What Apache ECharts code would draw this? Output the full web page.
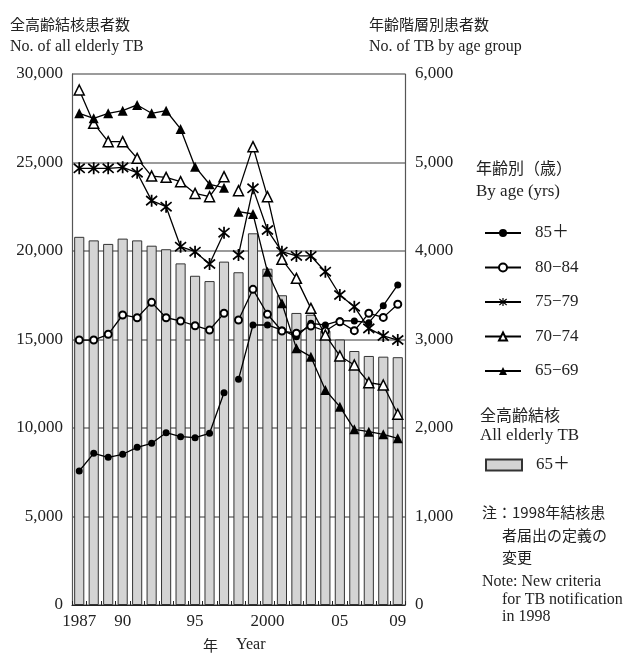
<!DOCTYPE html>
<html><head><meta charset="utf-8">
<script src="https://cdn.jsdelivr.net/npm/echarts@6/dist/echarts.min.js"></script>
<style>html,body{margin:0;padding:0;background:#fff}#c{width:643px;height:656px}</style>
</head><body><div id="c"></div>
<script>
const years = ['1987','1988','1989','1990','1991','1992','1993','1994','1995','1996','1997','1998','1999','2000','2001','2002','2003','2004','2005','2006','2007','2008','2009'];
const yearLabels = ['1987','','','90','','','','','95','','','','','2000','','','','','05','','','','09'];
const leftTicks = [0,5000,10000,15000,20000,25000,30000];
const rightTicks = [0,1000,2000,3000,4000,5000,6000];
const allElderly = [20800,20600,20400,20700,20600,20300,20100,19300,18600,18300,19400,18800,21000,19000,17500,16500,16400,15500,15000,14350,14070,14030,14000];
const age85 = [1514,1714,1669,1703,1782,1827,1947,1902,1891,1940,2399,2550,3164,3164,3107,3030,3183,3164,3213,3209,3190,3382,3616];
const age80 = [2994,2994,3059,3277,3246,3420,3246,3209,3156,3107,3296,3220,3567,3285,3096,3070,3153,3096,3201,3100,3296,3250,3398];
const age75 = [4934,4934,4934,4945,4885,4569,4501,4049,3992,3853,4207,3955,4708,4237,3992,3944,3944,3766,3503,3371,3126,3040,2994];
const age70 = [5819,5443,5235,5235,5047,4847,4832,4783,4651,4614,4840,4682,5179,4614,3906,3691,3352,3051,2814,2712,2512,2486,2155];
const age65 = [5556,5499,5556,5585,5650,5556,5585,5379,4953,4754,4716,4444,4418,3766,3409,2900,2806,2429,2241,1985,1958,1929,1884];
const breakIndex = 11; // 1998: new notification criteria, lines broken here

const FONT = "'Liberation Serif', 'Noto Sans CJK JP', serif";
const CJK = "'Noto Sans CJK JP', sans-serif";
const asterisk = 'path://M4.3,0 L5.7,0 L5.7,10 L4.3,10 Z M0.2,1.8 L1.0,0.6 L9.8,8.2 L9.0,9.4 Z M9.0,0.6 L9.8,1.8 L1.0,9.4 L0.2,8.2 Z';

const groups = [
  {name:'85＋', data:age85, symbol:'circle', size:7, item:{color:'#000'}},
  {name:'80−84', data:age80, symbol:'emptyCircle', size:7, item:{color:'#000', borderWidth:1.5}},
  {name:'75−79', data:age75, symbol:asterisk, size:12, item:{color:'#000'}},
  {name:'70−74', data:age70, symbol:'triangle', size:10, item:{color:'#fff', borderColor:'#000', borderWidth:1.5}},
  {name:'65−69', data:age65, symbol:'triangle', size:10, item:{color:'#000'}}
];

const series = [{
  name:'65＋', type:'bar', yAxisIndex:0, data:allElderly, barCategoryGap:'30%',
  itemStyle:{color:'#d4d4d4', borderColor:'#333', borderWidth:1}, z:1
}];
groups.forEach(g => {
  [0,1].forEach(part => {
    series.push({
      name:g.name, type:'line', yAxisIndex:1,
      data:g.data.map((v,i)=> (part===0 ? i<breakIndex : i>=breakIndex) ? v : null),
      connectNulls:false, symbol:g.symbol, symbolSize:g.size, showSymbol:true,
      lineStyle:{color:'#000', width:1.3}, itemStyle:g.item, z:3
    });
  });
});

const chart = echarts.init(document.getElementById('c'), null, {renderer:'canvas'});
const txt = (x,y,t,font,size) => ({type:'text', x:x, y:y, style:{text:t, font:size+'px '+font, fill:'#222', textVerticalAlign:'middle'}});
chart.setOption({
  animation:false,
  backgroundColor:'#fff',
  grid:{left:72, right:238, top:74, bottom:51},
  textStyle:{fontFamily:FONT},
  xAxis:{type:'category', data:years, boundaryGap:true,
    axisLine:{lineStyle:{color:'#222', width:1.2}},
    axisTick:{show:true, inside:true, length:4, interval:0, lineStyle:{color:'#222'}},
    axisLabel:{interval:0, color:'#222', fontSize:17, fontFamily:FONT, margin:8, formatter:(v,i)=>yearLabels[i]}},
  yAxis:[
    {type:'value', min:leftTicks[0], max:leftTicks[leftTicks.length-1], interval:5000, position:'left',
      axisLine:{show:true, lineStyle:{color:'#555', width:1.2}}, axisTick:{show:false},
      splitLine:{show:true, lineStyle:{color:'#7a7a7a', width:1.5}},
      axisLabel:{color:'#222', fontSize:17, fontFamily:FONT, margin:9, formatter:v=>v.toLocaleString('en-US')}},
    {type:'value', min:rightTicks[0], max:rightTicks[rightTicks.length-1], interval:1000, position:'right',
      axisLine:{show:true, lineStyle:{color:'#555', width:1.2}}, axisTick:{show:false}, splitLine:{show:false},
      axisLabel:{color:'#222', fontSize:17, fontFamily:FONT, margin:10, formatter:v=>v.toLocaleString('en-US')}}
  ],
  legend:[
    {orient:'vertical', left:479, top:218, itemWidth:36, itemHeight:10, itemGap:14.5,
      data:groups.map(g=>g.name), selectedMode:false,
      textStyle:{fontSize:17, fontFamily:FONT, color:'#222', lineHeight:20, padding:[0,0,0,9]}},
    {orient:'vertical', left:480, top:450, itemWidth:36, itemHeight:11, icon:'rect',
      data:['65＋'], selectedMode:false,
      textStyle:{fontSize:17, fontFamily:FONT, color:'#222', lineHeight:20, padding:[0,0,0,9]}}
  ],
  graphic:[
    txt(10,24,'全高齢結核患者数',CJK,15),
    txt(10,47,'No. of all elderly TB',FONT,16),
    txt(369,24,'年齢階層別患者数',CJK,15),
    txt(369,47,'No. of TB by age group',FONT,16),
    txt(476,168,'年齢別（歳）',CJK,16),
    txt(476,192,'By age (yrs)',FONT,17),
    txt(480,415,'全高齢結核',CJK,16),
    txt(480,436,'All elderly TB',FONT,17),
    txt(482,512,'注：1998年結核患',CJK,15),
    txt(502,535,'者届出の定義の',CJK,15),
    txt(502,557,'変更',CJK,15),
    txt(482,582,'Note: New criteria',FONT,16),
    txt(502,600,'for TB notification',FONT,16),
    txt(502,617,'in 1998',FONT,16),
    txt(203,645,'年',CJK,15),
    txt(236,645,'Year',FONT,16)
  ],
  series:series
});
</script>
</body></html>
